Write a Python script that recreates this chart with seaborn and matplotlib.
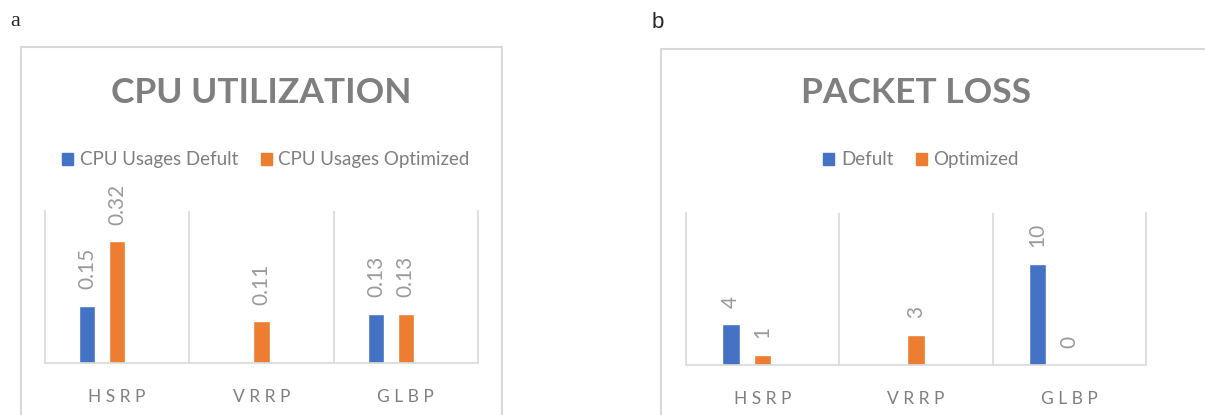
import matplotlib.pyplot as plt
import pandas as pd
import seaborn as sns
from matplotlib.patches import Patch, Rectangle

# data
protocols = ["HSRP", "VRRP", "GLBP"]
cpu_default = [0.15, None, 0.13]
cpu_optimized = [0.32, 0.11, 0.13]
loss_default = [4, None, 10]
loss_optimized = [1, 3, 0]

cpu_series = ["CPU Usages Defult", "CPU Usages Optimized"]
loss_series = ["Defult", "Optimized"]

BLUE = "#4472C4"
ORANGE = "#ED7D31"
GREY = "#7f7f7f"
LIGHT = "#d9d9d9"

sns.set_theme(style="white")
plt.rcParams["font.family"] = ["Lato", "DejaVu Sans"]


def long_table(default, optimized, names):
    rows = []
    for p, d, o in zip(protocols, default, optimized):
        if d is not None:
            rows.append((p, names[0], d))
        rows.append((p, names[1], o))
        # empty third slot, Excel leaves room for it on the right
        rows.append((p, "_pad", 0))
    return pd.DataFrame(rows, columns=["protocol", "series", "value"])


def panel(fig, rect, default, optimized, names, ymax, fmt, title, tcenter, lcenter):
    ax = fig.add_axes(rect)
    df = long_table(default, optimized, names)
    sns.barplot(
        data=df, x="protocol", y="value", hue="series",
        order=protocols, hue_order=[names[0], names[1], "_pad"],
        palette={names[0]: BLUE, names[1]: ORANGE, "_pad": (1, 1, 1, 0)},
        width=0.62, gap=0.46, saturation=1, legend=False, errorbar=None, ax=ax,
    )
    for cont in ax.containers[:2]:
        ax.bar_label(
            cont, labels=[fmt(v) for v in cont.datavalues], rotation=90,
            padding=12, color="#9a9a9a", fontsize=15, clip_on=False,
        )
    ax.set_xlim(-0.5, 2.5)
    ax.set_ylim(0, ymax)
    ax.set_xlabel("")
    ax.set_ylabel("")
    ax.set_yticks([])
    ax.set_xticks(range(3))
    ax.set_xticklabels([" ".join(p) for p in protocols], color=GREY, fontsize=12.5)
    ax.tick_params(axis="x", length=0, pad=19)
    ax.set_xticks([0.5, 1.5], minor=True)
    ax.grid(True, axis="x", which="minor", color=LIGHT, linewidth=1.2)
    ax.tick_params(axis="x", which="minor", length=0)
    for s in ["left", "right", "bottom"]:
        ax.spines[s].set_color(LIGHT)
        ax.spines[s].set_linewidth(1.2)
    ax.spines["top"].set_visible(False)

    fig.text(tcenter, 0.775, title, ha="center", va="center", fontsize=25.5,
             fontweight="bold", color=GREY)
    handles = [Patch(color=BLUE, label=names[0]), Patch(color=ORANGE, label=names[1])]
    fig.legend(handles=handles, loc="center", bbox_to_anchor=(lcenter, 0.615),
               ncol=2, frameon=False, fontsize=13.5, labelcolor=GREY,
               handlelength=0.6, handleheight=0.6, handletextpad=0.35,
               columnspacing=1.2)
    return ax


fig = plt.figure(figsize=(12.05, 4.15), dpi=100)

# light frames around each chart
fig.add_artist(Rectangle((21 / 1205, -0.05), 481 / 1205, 1.05 - 47 / 415,
                         transform=fig.transFigure, fill=False, edgecolor=LIGHT, lw=1.5))
fig.add_artist(Rectangle((661 / 1205, -0.05), 0.5, 1.05 - 49 / 415,
                         transform=fig.transFigure, fill=False, edgecolor=LIGHT, lw=1.5))

panel(fig, [45 / 1205, 52 / 415, 433 / 1205, 152 / 415], cpu_default, cpu_optimized,
      cpu_series, 0.40, lambda v: f"{v:.2f}", "CPU UTILIZATION", 261 / 1205, 266 / 1205)
panel(fig, [686 / 1205, 50 / 415, 460 / 1205, 152 / 415], loss_default, loss_optimized,
      loss_series, 15, lambda v: f"{v:g}", "PACKET LOSS", 916 / 1205, 921 / 1205)

fig.text(10 / 1205, 1 - 22 / 415, "a", fontsize=16, family="Liberation Serif",
         va="center", ha="left")
fig.text(652 / 1205, 1 - 22 / 415, "b", fontsize=16, family="Liberation Sans",
         va="center", ha="left")

fig.savefig("out.png", dpi=100)
